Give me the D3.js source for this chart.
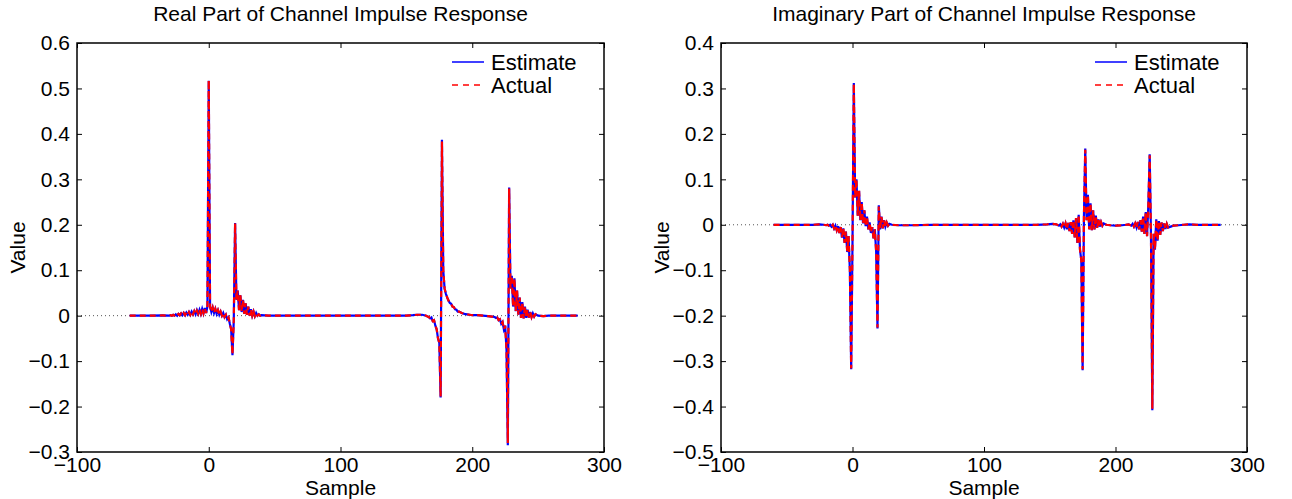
<!DOCTYPE html>
<html>
<head>
<meta charset="UTF-8">
<script src="https://d3js.org/d3.v7.min.js"></script>
<style>
  body { margin: 0; background: #fff; }
  svg { display: block; font-family: "Liberation Sans", Arial, Helvetica, sans-serif; }
  .axis path { display: none; }
  .axis line { stroke: #000; }
  .axis text { font-size: 21px; fill: #000; }
</style>
</head>
<body>
<svg id="chart" width="1292" height="499"></svg>
<script>
// axes
const xDomain = [-100, 300];
const xTicks = [-100, 0, 100, 200, 300];
const realDomain = [-0.3, 0.6];
const realTicks = [-0.3, -0.2, -0.1, 0, 0.1, 0.2, 0.3, 0.4, 0.5, 0.6];
const imagDomain = [-0.5, 0.4];
const imagTicks = [-0.5, -0.4, -0.3, -0.2, -0.1, 0, 0.1, 0.2, 0.3, 0.4];
const seriesNames = ["Estimate", "Actual"];

// real part
const realSample = [
  -60, -45, -35, -30, -29, -28, -27, -26, -25, -24, -23, -22, -21, -20, -19, -18, -17, -16, -15, -14, -13, -12, -11,
  -10, -9, -8, -7, -6, -5, -4, -3, -2, -1, 0, 1, 2, 3, 4, 5, 6, 7, 8, 9, 10, 11, 12, 13, 14, 15, 16, 17, 18, 19,
  20, 21, 22, 23, 24, 25, 26, 27, 28, 29, 30, 31, 32, 33, 34, 35, 36, 37, 38, 39, 40, 45, 150,
  155, 158, 162, 165, 166, 167, 168, 169, 170, 171, 172, 173, 174, 175, 176, 177, 178, 179, 180, 181, 182, 183,
  184, 185, 186, 187, 188, 189, 190, 192, 194, 196, 198, 200, 204, 208, 212, 215, 217, 218, 219, 220, 221, 222,
  223, 224, 225, 226, 227, 228, 229, 230, 231, 232, 233, 234, 235, 236, 237, 238, 239, 240, 241, 242, 243, 244,
  245, 246, 247, 248, 250, 254, 258, 280
];
const realEstimate = [
  0, 0, 0.0005, 0, 0.001, 0, 0.002, 0, 0.003, 0, 0.004, 0.001, 0.005, 0.001, 0.006, 0.001, 0.007, 0.002, 0.008, 0.002, 0.009, 0.003, 0.010,
  0.003, 0.012, 0.004, 0.013, 0.004, 0.015, 0.005, 0.017, 0.006, 0.020, 0.517, 0.020, 0.008, 0.018, 0.006, 0.015, 0.004, 0.012, 0.002, 0.009, 0.000, 0.006, -0.003, 0.002, -0.008, -0.004, -0.018, -0.030, -0.087, -0.010,
  0.204, 0.035, 0.055, 0.012, 0.045, 0.008, 0.035, 0.004, 0.027, 0.002, 0.020, 0.000, 0.014, 0.000, 0.009, -0.001, 0.006, 0.000, 0.003, 0.000, 0.001, 0, 0,
  0.001, 0.002, 0.002, 0.000, -0.002, -0.003, -0.006, -0.004, -0.012, -0.010, -0.022, -0.030, -0.050, -0.060, -0.180, 0.387, 0.100, 0.060, 0.048, 0.040, 0.033, 0.028,
  0.026, 0.020, 0.019, 0.014, 0.013, 0.009, 0.009, 0.006, 0.004, 0.003, 0.002, 0.001, 0.001, 0.000, -0.001, -0.002, -0.003, -0.005, -0.004, -0.010, -0.008, -0.018,
  -0.014, -0.030, -0.022, -0.075, -0.285, 0.282, 0.060, 0.088, 0.020, 0.082, 0.010, 0.055, 0.002, 0.040, -0.005, 0.030, -0.006, 0.020, -0.005, 0.013, -0.004, 0.008,
  -0.003, 0.005, -0.002, 0.003, 0.000, -0.001, 0.000, 0
];
const realActual = [
  0, 0, 0.0005, 0, 0.001, 0, 0.002, 0, 0.003, 0, 0.004, 0.001, 0.005, 0.001, 0.006, 0.001, 0.007, 0.002, 0.008, 0.002, 0.009, 0.003, 0.010,
  0.003, 0.011, 0.004, 0.013, 0.004, 0.015, 0.005, 0.016, 0.006, 0.019, 0.518, 0.019, 0.008, 0.018, 0.006, 0.015, 0.004, 0.012, 0.002, 0.009, 0.000, 0.006, -0.003, 0.002, -0.008, -0.004, -0.018, -0.030, -0.085, -0.010,
  0.203, 0.035, 0.055, 0.012, 0.045, 0.008, 0.035, 0.004, 0.027, 0.002, 0.020, 0.000, 0.014, 0.000, 0.009, -0.001, 0.006, 0.000, 0.003, 0.000, 0.001, 0, 0,
  0.001, 0.002, 0.002, 0.000, -0.002, -0.003, -0.006, -0.004, -0.012, -0.010, -0.022, -0.030, -0.050, -0.060, -0.178, 0.383, 0.100, 0.060, 0.048, 0.040, 0.033, 0.028,
  0.026, 0.020, 0.019, 0.014, 0.013, 0.009, 0.009, 0.006, 0.004, 0.003, 0.002, 0.001, 0.001, 0.000, -0.001, -0.002, -0.003, -0.005, -0.004, -0.010, -0.008, -0.018,
  -0.014, -0.030, -0.022, -0.075, -0.280, 0.280, 0.060, 0.088, 0.020, 0.082, 0.010, 0.055, 0.002, 0.040, -0.005, 0.030, -0.006, 0.020, -0.005, 0.013, -0.004, 0.008,
  -0.003, 0.005, -0.002, 0.003, 0.000, -0.001, 0.000, 0
];

// imaginary part
const imagSample = [
  -60, -40, -30, -25, -22, -20, -19, -18, -17, -16, -15, -14, -13, -12, -11, -10, -9, -8, -7, -6, -5, -4, -3, -2,
  -1, 0, 1, 2, 3, 4, 5, 6, 7, 8, 9, 10, 11, 12, 13, 14, 15, 16, 17, 18, 19, 20, 21, 22, 23, 24, 25, 26, 27, 28,
  30, 35, 45, 60, 140, 148, 152, 155, 157, 158, 159, 160, 161, 162, 163, 164, 165, 166, 167, 168, 169, 170, 171,
  172, 173, 174, 175, 176, 177, 178, 179, 180, 181, 182, 183, 184, 185, 186, 187, 188, 189, 190, 191, 193, 196,
  200, 205, 208, 210, 212, 213, 214, 215, 216, 217, 218, 219, 220, 221, 222, 223, 224, 225, 226, 227, 228, 229,
  230, 231, 232, 233, 234, 235, 236, 237, 238, 239, 240, 242, 244, 248, 252, 256, 262, 280
];
const imagEstimate = [
  0, 0, 0.000, 0.001, 0.000, -0.001, 0.000, -0.002, 0.000, -0.004, 0.000, -0.008, -0.002, -0.012, -0.003, -0.018, -0.005, -0.028, -0.008, -0.040, -0.015, -0.060, -0.025, -0.100,
  -0.318, -0.040, 0.312, 0.060, 0.100, 0.020, 0.075, 0.010, 0.050, 0.003, 0.032, -0.003, 0.018, -0.010, 0.005, -0.018, -0.005, -0.030, -0.010, -0.060, -0.228, 0.043, -0.010, 0.018, -0.008, 0.010, -0.004, 0.005, -0.002, 0.002,
  0.000, -0.001, -0.001, 0, 0, 0.001, 0.002, 0.001, -0.002, 0.001, -0.004, 0.002, -0.006, 0.003, -0.010, 0.004, -0.014, 0.006, -0.020, 0.010, -0.028, 0.015, -0.040,
  0.022, -0.055, -0.078, -0.320, 0.020, 0.168, 0.010, 0.066, -0.010, 0.047, -0.012, 0.032, -0.010, 0.020, -0.007, 0.012, -0.004, 0.006, -0.002, 0.003, 0.000, -0.001,
  -0.002, -0.001, 0.000, 0.001, -0.002, 0.002, -0.004, 0.003, -0.006, 0.006, -0.010, 0.010, -0.015, 0.018, -0.020, 0.028, -0.025, 0.045, 0.155, -0.030, -0.408, -0.020,
  -0.055, 0.012, -0.035, 0.008, -0.022, 0.005, -0.014, 0.003, -0.009, 0.002, -0.006, -0.004, -0.002, -0.001, 0.000, 0.001, 0.000, 0
];
const imagActual = [
  0, 0, 0.000, 0.001, 0.000, -0.001, 0.000, -0.002, 0.000, -0.004, 0.000, -0.008, -0.002, -0.012, -0.003, -0.018, -0.005, -0.027, -0.008, -0.040, -0.015, -0.058, -0.025, -0.098,
  -0.316, -0.040, 0.310, 0.060, 0.100, 0.020, 0.075, 0.010, 0.050, 0.003, 0.032, -0.003, 0.018, -0.010, 0.005, -0.018, -0.005, -0.030, -0.010, -0.060, -0.226, 0.040, -0.010, 0.018, -0.008, 0.010, -0.004, 0.005, -0.002, 0.002,
  0.000, -0.001, -0.001, 0, 0, 0.001, 0.002, 0.001, -0.002, 0.001, -0.004, 0.002, -0.006, 0.003, -0.010, 0.004, -0.014, 0.006, -0.020, 0.010, -0.028, 0.015, -0.040,
  0.022, -0.055, -0.078, -0.318, 0.020, 0.165, 0.010, 0.066, -0.010, 0.047, -0.012, 0.032, -0.010, 0.020, -0.007, 0.012, -0.004, 0.006, -0.002, 0.003, 0.000, -0.001,
  -0.002, -0.001, 0.000, 0.001, -0.002, 0.002, -0.004, 0.003, -0.006, 0.006, -0.010, 0.010, -0.015, 0.018, -0.020, 0.028, -0.025, 0.045, 0.153, -0.030, -0.405, -0.020,
  -0.055, 0.012, -0.035, 0.008, -0.022, 0.005, -0.014, 0.003, -0.009, 0.002, -0.006, -0.004, -0.002, -0.001, 0.000, 0.001, 0.000, 0
];

const svg = d3.select("#chart");
const fmtY = d => d === 0 ? "0" : d3.format(".1f")(d);
const fmtX = d3.format("d");

function drawPanel(p) {
  const x = d3.scaleLinear().domain(xDomain).range([p.left, p.right]);
  const y = d3.scaleLinear().domain(p.yDomain).range([p.bottom, p.top]);
  const g = svg.append("g");

  // dotted zero line
  g.append("line")
    .attr("x1", x(xDomain[0])).attr("x2", x(xDomain[1]))
    .attr("y1", y(0)).attr("y2", y(0))
    .attr("stroke", "#555").attr("stroke-width", 1)
    .attr("stroke-dasharray", "1,3");

  const line = d3.line().x((d, i) => x(p.samples[i])).y(d => y(d));

  g.append("path").datum(p.estimate)
    .attr("fill", "none").attr("stroke", "#0000ff").attr("stroke-width", 2.2)
    .attr("d", line);
  g.append("path").datum(p.actual)
    .attr("fill", "none").attr("stroke", "#ff0000").attr("stroke-width", 2.2)
    .attr("stroke-dasharray", "6,4").attr("d", line);

  // axes with inward ticks, MATLAB style
  g.append("g").attr("class", "axis")
    .attr("transform", `translate(0,${p.bottom})`)
    .call(d3.axisBottom(x).tickValues(xTicks).tickFormat(fmtX).tickSize(-5).tickPadding(5));
  g.append("g").attr("class", "axis")
    .attr("transform", `translate(0,${p.top})`)
    .call(d3.axisTop(x).tickValues(xTicks).tickFormat("").tickSize(-5));
  g.append("g").attr("class", "axis")
    .attr("transform", `translate(${p.left},0)`)
    .call(d3.axisLeft(y).tickValues(p.yTicks).tickFormat(fmtY).tickSize(-5).tickPadding(7));
  g.append("g").attr("class", "axis")
    .attr("transform", `translate(${p.right},0)`)
    .call(d3.axisRight(y).tickValues(p.yTicks).tickFormat("").tickSize(-5));

  g.append("rect")
    .attr("x", p.left).attr("y", p.top)
    .attr("width", p.right - p.left).attr("height", p.bottom - p.top)
    .attr("fill", "none").attr("stroke", "#000").attr("stroke-width", 1.5);

  // title and labels
  g.append("text")
    .attr("x", (p.left + p.right) / 2).attr("y", 21)
    .attr("text-anchor", "middle").attr("font-size", 21)
    .text(p.title);
  g.append("text")
    .attr("x", (p.left + p.right) / 2).attr("y", 495)
    .attr("text-anchor", "middle").attr("font-size", 21)
    .text("Sample");
  g.append("text")
    .attr("transform", `translate(${p.left - 52},${(p.top + p.bottom) / 2}) rotate(-90)`)
    .attr("text-anchor", "middle").attr("font-size", 21)
    .text("Value");

  // legend
  const lg = g.append("g");
  seriesNames.forEach((name, i) => {
    const ly = p.top + 19 + i * 23;
    lg.append("line")
      .attr("x1", p.right - 152).attr("x2", p.right - 120)
      .attr("y1", ly).attr("y2", ly)
      .attr("stroke", i === 0 ? "#0000ff" : "#ff0000").attr("stroke-width", 1.5)
      .attr("stroke-dasharray", i === 0 ? null : "6,5");
    lg.append("text")
      .attr("x", p.right - 113).attr("y", ly + 8)
      .attr("font-size", 22)
      .text(name);
  });
}

drawPanel({
  left: 77, right: 604, top: 43, bottom: 452,
  yDomain: realDomain, yTicks: realTicks,
  title: "Real Part of Channel Impulse Response",
  samples: realSample, estimate: realEstimate, actual: realActual
});
drawPanel({
  left: 721, right: 1247, top: 43, bottom: 452,
  yDomain: imagDomain, yTicks: imagTicks,
  title: "Imaginary Part of Channel Impulse Response",
  samples: imagSample, estimate: imagEstimate, actual: imagActual
});
</script>
</body>
</html>
